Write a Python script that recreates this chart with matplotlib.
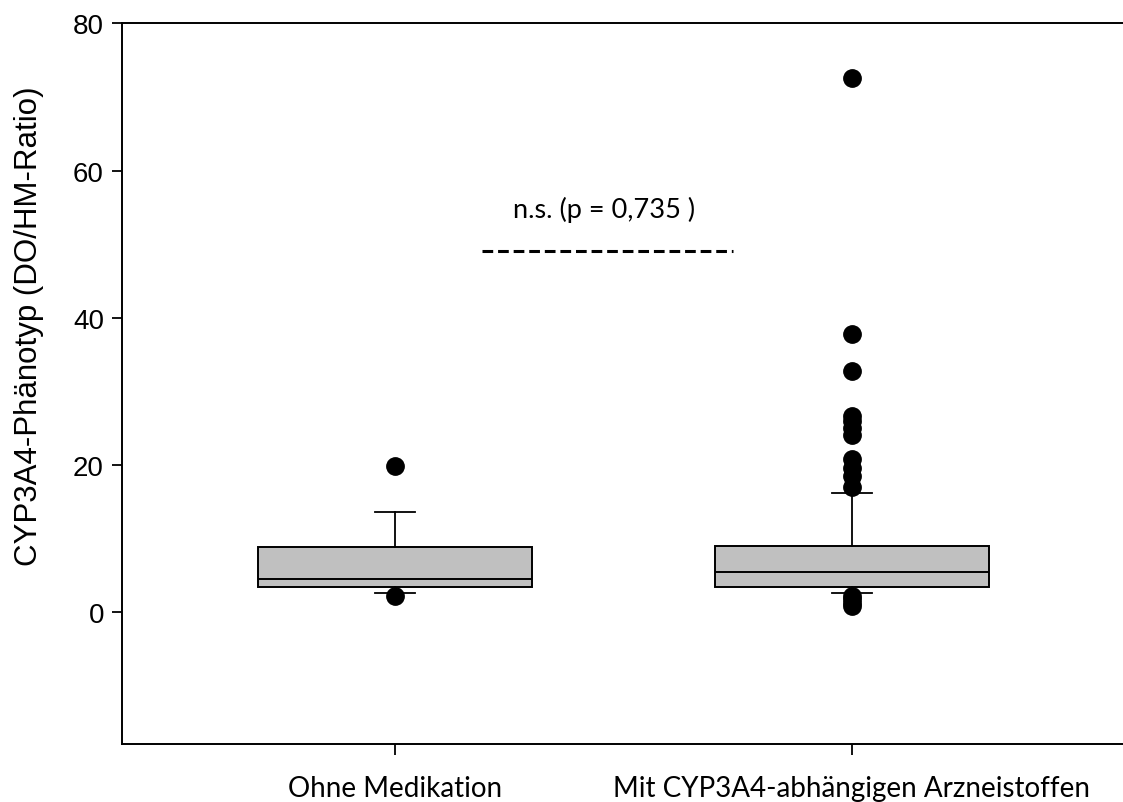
import matplotlib
matplotlib.use('Agg')
import matplotlib.pyplot as plt

# Werte
gruppen = ['Ohne Medikation', 'Mit CYP3A4-abhängigen Arzneistoffen']
q1 = [3.4, 3.3]
median = [4.5, 5.4]
q3 = [8.8, 9.0]
whisker_unten = [2.5, 2.6]
whisker_oben = [13.5, 16.1]
ausreisser_ohne = [19.8, 2.2]
ausreisser_mit = [72.6, 37.7, 32.8, 26.6, 26.0, 25.0, 24.0,
                  20.8, 19.5, 18.4, 16.9, 2.2, 1.7, 1.2, 0.8]
sig_y = 49.1
sig_text = 'n.s. (p = 0,735 )'

stats = []
for i, name in enumerate(gruppen):
    stats.append({
        'label': name,
        'q1': q1[i], 'med': median[i], 'q3': q3[i],
        'whislo': whisker_unten[i], 'whishi': whisker_oben[i],
        'fliers': [ausreisser_ohne, ausreisser_mit][i],
    })

fig = plt.figure(figsize=(11.23, 8.03), dpi=100)
ax = fig.add_axes([0.1086, 0.0722, 0.8914, 0.8973])

ax.bxp(stats, positions=[1, 2], widths=0.6, patch_artist=True,
       boxprops=dict(facecolor='#c0c0c0', edgecolor='black', linewidth=1.4),
       medianprops=dict(color='black', linewidth=1.4),
       whiskerprops=dict(color='black', linewidth=1.3),
       capprops=dict(color='black', linewidth=1.3),
       capwidths=0.0875,
       flierprops=dict(marker='o', markerfacecolor='black', markeredgecolor='black',
                       markersize=12.5, linestyle='none'))

ax.plot([1.19, 1.74], [sig_y, sig_y], color='black', linewidth=2.2, dashes=(3.5, 1.6))
ax.text(1.457, 54.8, sig_text, ha='center', va='center', fontsize=19.5, family='Lato')

ax.set_xlim(0.403, 2.593)
ax.set_ylim(-18, 80)
ax.set_yticks([0, 20, 40, 60, 80])
ax.set_yticklabels(['0', '20', '40', '60', '80'], family='Liberation Sans', fontsize=20)
ax.set_xticks([1, 2])
ax.set_xticklabels(gruppen, family='Lato', fontsize=20)
ax.tick_params(axis='y', direction='out', length=7, width=1.3, pad=6)
ax.tick_params(axis='x', direction='out', length=8, width=1.3, pad=14)

for s in ['left', 'bottom', 'top']:
    ax.spines[s].set_linewidth(1.4)
ax.spines['right'].set_visible(False)

ax.set_ylabel('CYP3A4-Phänotyp (DO/HM-Ratio)', family='Liberation Sans', fontsize=22.5)
ax.yaxis.set_label_coords(-0.078, 0.5815)

fig.savefig('out.png', dpi=100)
